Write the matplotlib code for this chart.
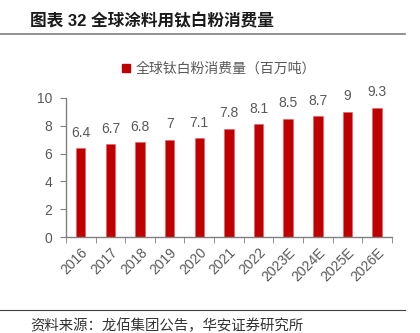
import numpy as np
import matplotlib.pyplot as plt
from matplotlib.patches import Patch
from matplotlib.lines import Line2D

years = ["2016", "2017", "2018", "2019", "2020", "2021", "2022",
         "2023E", "2024E", "2025E", "2026E"]
consumption = [6.4, 6.7, 6.8, 7, 7.1, 7.8, 8.1, 8.5, 8.7, 9, 9.3]
value_labels = ["6.4", "6.7", "6.8", "7", "7.1", "7.8", "8.1", "8.5", "8.7", "9", "9.3"]

title = "图表 32 全球涂料用钛白粉消费量"
legend_label = "全球钛白粉消费量（百万吨）"
source = "资料来源：龙佰集团公告，华安证券研究所"

FONTS = ["Liberation Sans", "Noto Sans CJK SC", "DejaVu Sans"]
plt.rcParams["font.family"] = FONTS
GREY = "#595959"
RED = "#C00000"

fig = plt.figure(figsize=(4.2, 3.33), dpi=100)
ax = fig.add_axes([0.157, 0.288, 0.776, 0.418])

x = np.arange(len(years))
ax.bar(x, consumption, width=0.32, color=RED, edgecolor="#E06060", linewidth=0.4)

# value labels on top of the bars
for xi, v, lab in zip(x, consumption, value_labels):
    ax.annotate(lab, (xi, v), xytext=(0, 6), textcoords="offset points",
                ha="center", va="bottom", fontsize=10, color=GREY)

ax.set_xlim(-0.5, len(years) - 0.5)
ax.set_ylim(0, 10)
ax.set_yticks([0, 2, 4, 6, 8, 10])
ax.set_xticks(x)
ax.set_xticklabels(years, rotation=45, ha="right", rotation_mode="anchor")
ax.set_xticks(np.arange(-0.5, len(years), 1), minor=True)
ax.tick_params(axis="x", which="major", length=0, pad=6, labelsize=10, labelcolor=GREY)
ax.tick_params(axis="x", which="minor", length=4, direction="out", color="#808080")
ax.tick_params(axis="y", length=4, direction="out", color="#808080",
               labelsize=10, labelcolor=GREY, pad=6)

for s in ["top", "right"]:
    ax.spines[s].set_visible(False)
for s in ["left", "bottom"]:
    ax.spines[s].set_color("#808080")
    ax.spines[s].set_linewidth(1.0)

# legend
handle = Patch(facecolor=RED, edgecolor=RED)
fig.legend([handle], [legend_label], loc="center", bbox_to_anchor=(0.522, 0.793),
           frameon=False, handlelength=0.6, handleheight=0.6, handletextpad=0.4,
           prop={"family": ["Noto Sans CJK SC"], "size": 10}, labelcolor=GREY)

# title, rules and source
fig.text(0.072, 0.937, title, fontsize=12, fontweight="bold", color="#1a1a1a",
         va="center", ha="left")
fig.add_artist(Line2D([0.0, 0.965], [0.898, 0.898], color="#7f7f7f", linewidth=1.2))
fig.add_artist(Line2D([0.0, 0.965], [0.069, 0.069], color="#404040", linewidth=0.8))
fig.text(0.072, 0.022, source, fontsize=10.4, color="#333333", va="center", ha="left",
         family=["Noto Sans CJK SC"])

fig.savefig("out.png", dpi=100, facecolor="white")
